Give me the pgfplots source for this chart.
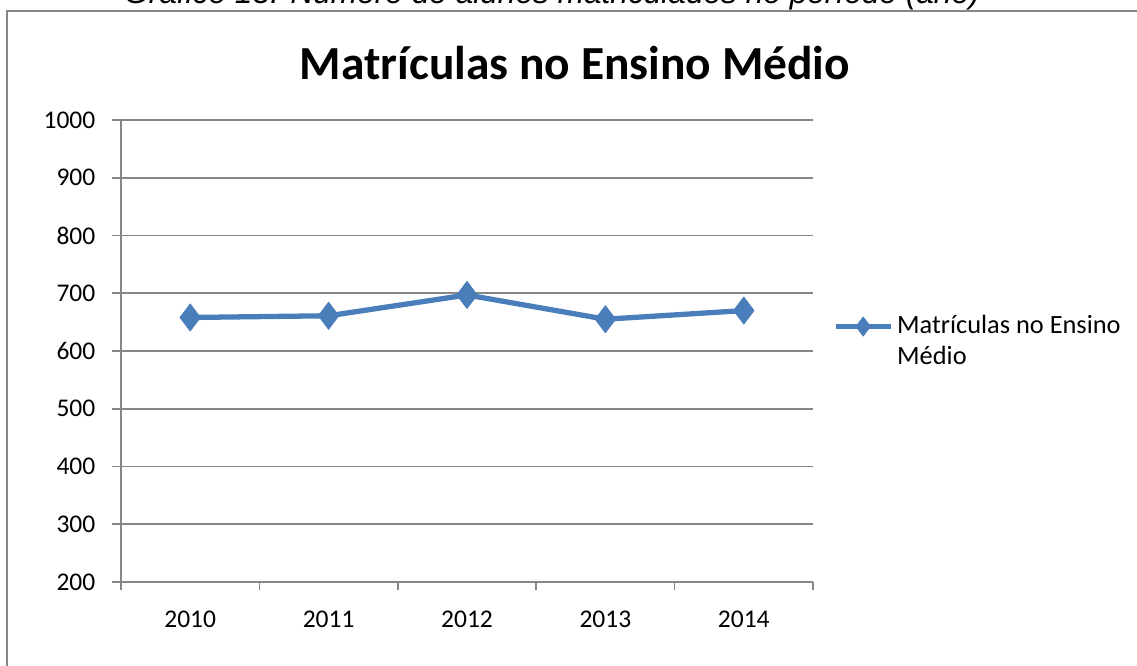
\documentclass[border=0pt]{standalone}
\usepackage{pgfplots}
\pgfplotsset{compat=1.18}
\usepackage{fontspec}
\setmainfont{Carlito}
\newfontfamily\capfont{Liberation Sans}
\definecolor{exblue}{HTML}{4A7EBB}
\definecolor{gridgray}{HTML}{868686}
\begin{document}
\begin{tikzpicture}
\useasboundingbox (0,0) rectangle (22.74,13.32);
\clip (0,0) rectangle (22.74,13.32);
\draw[gridgray, line width=1pt] (0.14,-1) -- (0.14,13.10) -- (24,13.10);
\node[anchor=base, font=\capfont\itshape\fontsize{18}{21}\selectfont, inner sep=0pt] at (11.04,13.24) {Gráfico 13: Número de alunos matriculados no período (ano)};
\node[anchor=base, font=\bfseries\fontsize{27}{32}\selectfont, inner sep=0pt] at (11.5,11.72) {Matrículas no Ensino Médio};
\begin{axis}[
  at={(2.42cm,1.68cm)}, anchor=south west,
  width=13.84cm, height=9.24cm, scale only axis,
  xmin=0, xmax=5, ymin=200, ymax=1000,
  xtick={0,1,2,3,4,5}, x tick label as interval,
  xticklabels={2010,2011,2012,2013,2014},
  ytick={200,300,400,500,600,700,800,900,1000},
  axis lines=left, axis line style={-, gridgray, line width=1pt},
  tick align=outside, major tick length=0.17cm,
  tick style={gridgray, line width=1pt},
  ymajorgrids, grid style={gridgray, line width=1pt},
  ticklabel style={font=\fontsize{14.5}{17}\selectfont, black},
  yticklabel style={xshift=-0.22cm},
  xticklabel style={yshift=-0.28cm},
  /pgf/number format/assume math mode=true,
  /pgf/number format/1000 sep={},
  legend style={at={(1.029,0.587)}, anchor=north west, draw=none, fill=none,
    inner sep=0pt, outer sep=0pt, row sep=0pt,
    font=\fontsize{15}{18}\selectfont,
    nodes={inner sep=2.2pt, text height=10.5pt, text depth=3pt}},
  legend cell align=left,
  legend image code/.code={\draw[#1, mark repeat=2, mark phase=2, mark size=0.19cm] plot coordinates {(0cm,0cm) (0.55cm,0cm) (1.1cm,0cm)};},
]
\addplot[exblue, line width=3pt, line join=round, mark=diamond*, mark size=0.27cm,
  mark options={fill=exblue, line width=0.5pt, solid}]
  coordinates {(0.5,658) (1.5,661) (2.5,697) (3.5,655) (4.5,670)};
\addlegendentry{Matrículas no Ensino}
\addlegendimage{empty legend}
\addlegendentry{Médio}
\end{axis}
\end{tikzpicture}
\end{document}
